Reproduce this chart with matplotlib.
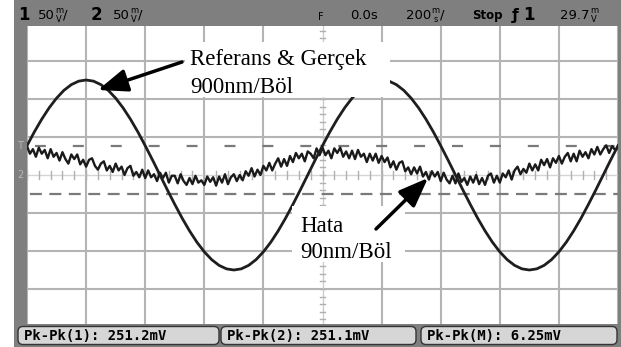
import numpy as np
import matplotlib
matplotlib.use('Agg')
import matplotlib.pyplot as plt
from matplotlib.patches import Rectangle, FancyBboxPatch

plt.rcParams['lines.scale_dashes'] = False

W, H = 621, 347

# kanal 1/2 (referans & gercek) - zaman ms, gerilim mV  (200ms/div, 50mV/div)
ref_t = np.arange(-1000, 1001, 25)
ref_v = [38.6, 56.8, 73.5, 88.4, 101.1, 111.4, 118.9, 123.5, 125,
         123.5, 118.9, 111.4, 101.1, 88.4, 73.5, 56.8, 38.6, 19.6, 0,
         -19.6, -38.6, -56.8, -73.5, -88.4, -101.1, -111.4, -118.9, -123.5, -125,
         -123.5, -118.9, -111.4, -101.1, -88.4, -73.5, -56.8, -38.6, -19.6, 0,
         19.6, 38.6, 56.8, 73.5, 88.4, 101.1, 111.4, 118.9, 123.5, 125,
         123.5, 118.9, 111.4, 101.1, 88.4, 73.5, 56.8, 38.6, 19.6, 0,
         -19.6, -38.6, -56.8, -73.5, -88.4, -101.1, -111.4, -118.9, -123.5, -125,
         -123.5, -118.9, -111.4, -101.1, -88.4, -73.5, -56.8, -38.6, -19.6, 0,
         19.6, 38.6]

# hata (M) izi
hata_t = np.arange(-1000, 1001, 10)
hata_v = [38, 28, 34, 24, 36, 28, 33, 22, 34, 24,
          29, 19, 30, 21, 15, 27, 21, 27, 14, 20,
          11, 20, 22, 12, 7, 15, 18, 6, 12, 4,
          15, 6, 11, 0, 9, 12, -1, 4, -3, 7,
          -4, 6, -3, 1, -8, 3, -4, 3, -10, -1,
          -1, -11, 1, -8, -13, -4, -12, -1, -10, -7,
          -13, -2, -9, -3, -14, -2, -10, 1, -12, -3,
          1, -8, 0, -7, 5, -1, 9, -2, 7, 0,
          12, 6, 16, 6, 15, 22, 11, 21, 12, 25,
          17, 29, 22, 28, 18, 31, 28, 22, 35, 26,
          36, 26, 32, 22, 35, 29, 36, 24, 31, 22,
          32, 21, 33, 24, 28, 17, 28, 19, 28, 16,
          25, 17, 23, 10, 18, 7, 16, 18, 5, 10,
          1, 10, 2, 11, -2, 4, -6, 5, -2, 4,
          -8, 3, -6, -11, -1, -11, 2, -9, -4, -13,
          -2, -10, 0, -12, -4, -13, -1, 2, -10, -1,
          -10, 2, -3, 6, -6, 6, 11, 1, 8, 3,
          15, 6, 14, 6, 20, 13, 21, 10, 22, 16,
          25, 15, 24, 29, 18, 28, 18, 32, 24, 30,
          22, 34, 27, 37, 27, 34, 39, 29, 38, 33,
          36]

imlec_ust = 38
imlec_alt = -25

olcumler = ['Pk-Pk(1): 251.2mV', 'Pk-Pk(2): 251.1mV', 'Pk-Pk(M): 6.25mV']

fig = plt.figure(figsize=(W / 100, H / 100), dpi=100)
fig.patch.set_facecolor('white')

ax = fig.add_axes([27 / W, 1 - 327 / H, 591 / W, 304 / H])
ax.set_xlim(-1000, 1000)
ax.set_ylim(-200, 200)
ax.axis('off')

grid_c = '#b4b4b4'
for x in range(-1000, 1001, 200):
    if x != 0:
        ax.axvline(x, color=grid_c, lw=1.5, zorder=1)
for y in range(-200, 201, 50):
    if y != 0:
        ax.axhline(y, color=grid_c, lw=1.5, zorder=1)

# orta eksenler ve kucuk isaretler
ax.axvline(0, color='#cccccc', lw=1, zorder=1)
ax.axhline(0, color='#d4d4d4', lw=1, zorder=1)
for tt in range(-1000, 1001, 40):
    ax.plot([tt, tt], [-5, 5], color='#b0b0b0', lw=1, zorder=1)
for vv in range(-200, 201, 10):
    ax.plot([-10, 10], [vv, vv], color='#b0b0b0', lw=1, zorder=1)

# imlecler
ax.plot([-1000, 1000], [imlec_ust, imlec_ust], color='#7a7a7a', lw=1.6,
        ls=(21.6, (7.9, 19.4)), zorder=2)
ax.plot([-1000, 1000], [imlec_alt, imlec_alt], color='#7a7a7a', lw=1.6,
        ls=(11.9, (8.6, 5.4)), zorder=2)

ax.plot(hata_t, hata_v, color='#1a1a1a', lw=1.7, zorder=3)
ax.plot(ref_t, ref_v, color='#1e1e1e', lw=2.0, zorder=4)

# ust ve alt cubuklar, yazilar, oklar
ov = fig.add_axes([0, 0, 1, 1], facecolor='none')
ov.set_xlim(0, W)
ov.set_ylim(H, 0)
ov.axis('off')

bar_c = '#7f7f7f'
ov.add_patch(Rectangle((14, 0), W - 14, 26, color=bar_c, lw=0))
ov.add_patch(Rectangle((14, 0), 13, H, color=bar_c, lw=0))
ov.add_patch(Rectangle((618, 0), 3, H, color=bar_c, lw=0))
ov.add_patch(Rectangle((14, 324), W - 14, H - 324, color=bar_c, lw=0))


def deger(x, sayi, ust, alt, son=''):
    ov.text(x, 15, sayi, fontsize=9.5, va='center', ha='left')
    w = sum(4.2 if c == '.' else 8.4 for c in sayi)
    cx = x + w + 4.5
    ov.text(cx, 10.5, ust, fontsize=6, ha='center', va='center')
    ov.text(cx, 19.5, alt, fontsize=6, ha='center', va='center')
    if son:
        ov.text(cx + 4, 15, son, fontsize=9.5, va='center', ha='left')


ov.text(18, 15, '1', fontsize=12, fontweight='bold', va='center')
deger(38, '50', 'm', 'V', '/')
ov.text(91, 15, '2', fontsize=12, fontweight='bold', va='center')
deger(113, '50', 'm', 'V', '/')
ov.text(318, 17, 'F', fontsize=7, va='center')
ov.text(350, 15, '0.0s', fontsize=9.5, va='center')
deger(406, '200', 'm', 's', '/')
ov.text(472, 15, 'Stop', fontsize=8.5, fontweight='bold', va='center')
ov.text(512, 15, 'ƒ', fontsize=11, fontweight='bold', va='center')
ov.text(523, 15, '1', fontsize=12, fontweight='bold', va='center')
deger(560, '29.7', 'm', 'V')

ov.text(20, 146, 'T', fontsize=7, color='#b8b8b8', ha='center', va='center')
ov.text(20, 175, '2', fontsize=7, color='#b8b8b8', ha='center', va='center')

kutular = [(18, 201), (221, 195), (421, 196)]
for (x0, w), yazi in zip(kutular, olcumler):
    ov.add_patch(FancyBboxPatch((x0, 326.5), w, 18,
                                boxstyle='round,pad=0,rounding_size=5',
                                fc='#d6d6d6', ec='#333333', lw=1))
    ov.text(x0 + 6, 336, yazi, fontsize=10, family='DejaVu Sans Mono',
            fontweight='bold', va='center', ha='left')

serif = 'Liberation Serif'
ov.add_patch(Rectangle((185, 42), 205, 55, color='white', lw=0, zorder=5))
ov.text(190, 65, 'Referans & Gerçek', fontsize=16.5, family=serif,
        va='baseline', zorder=6)
ov.text(190, 93, '900nm/Böl', fontsize=16.5, family=serif,
        va='baseline', zorder=6)

ov.add_patch(Rectangle((292, 206), 113, 56, color='white', lw=0, zorder=5))
ov.text(300, 232, 'Hata', fontsize=16.5, family=serif, va='baseline', zorder=6)
ov.text(300, 258, '90nm/Böl', fontsize=16.5, family=serif, va='baseline',
        zorder=6)

ok = dict(arrowstyle='-|>,head_length=0.9,head_width=0.35', color='black',
          lw=2.5, mutation_scale=20, shrinkA=0, shrinkB=0)
ov.annotate('', xy=(98, 90), xytext=(182, 62), arrowprops=ok, zorder=7)
ov.annotate('', xy=(428, 178), xytext=(376, 229), arrowprops=ok, zorder=7)

fig.savefig('out.png', dpi=100)
